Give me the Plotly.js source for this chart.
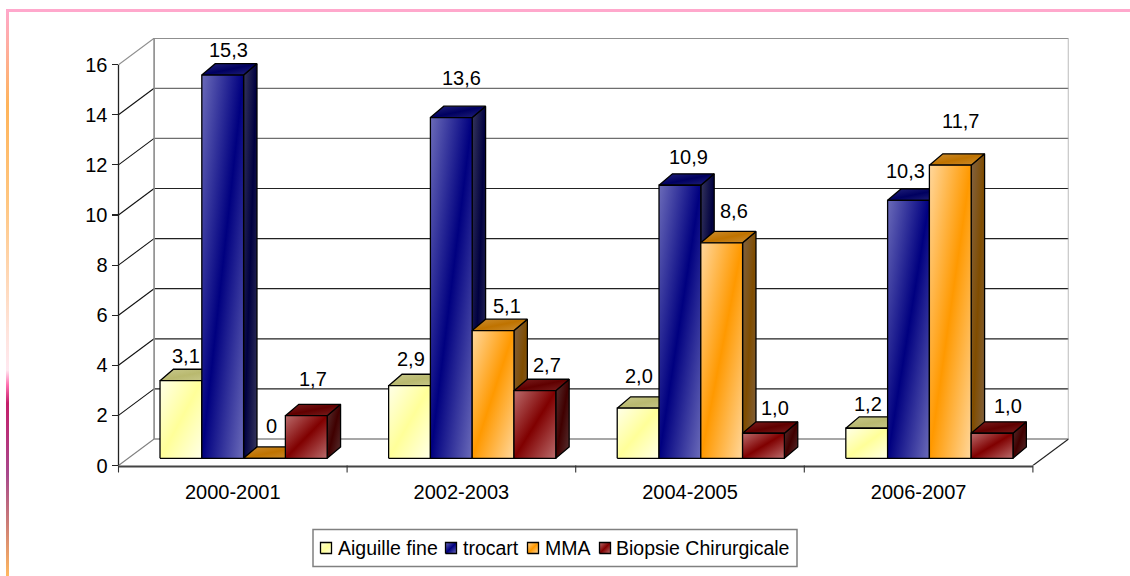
<!DOCTYPE html>
<html>
<head>
<meta charset="utf-8">
<script src="https://cdn.plot.ly/plotly-3.0.1.min.js"></script>
<style>
  html, body { margin: 0; padding: 0; background: #fff; }
  #chart { width: 1130px; height: 576px; }
</style>
</head>
<body>
<div id="chart"></div>
<script>
// Biopsy counts per period, one list per technique
const periods = ['2000-2001', '2002-2003', '2004-2005', '2006-2007'];
const seriesNames = ['Aiguille fine', 'trocart', 'MMA', 'Biopsie Chirurgicale'];
const aiguilleFine = [3.1, 2.9, 2.0, 1.2];
const trocart = [15.3, 13.6, 10.9, 10.3];
const mma = [0, 5.1, 8.6, 11.7];
const biopsieChirurgicale = [1.7, 2.7, 1.0, 1.0];
const yTicks = [0, 2, 4, 6, 8, 10, 12, 14, 16];

const seriesValues = [aiguilleFine, trocart, mma, biopsieChirurgicale];

// Page geometry, in pixels
const W = 1130, H = 576;
const plotLeft = 118.5, plotRight = 1068.6, plotTop = 38, plotBottom = 465.5;
const pxPerPeriod = 228.6, pxPerUnit = 25.05;

// Oblique projection offsets, converted to axis units
const toX = px => px / pxPerPeriod;
const toY = px => px / pxPerUnit;
const wallDx = toX(35.6), wallDy = toY(26.5);
const barFrontDx = toX(9.4), barFrontDy = toY(7.2);
const barDepthDx = toX(13.4), barDepthDy = toY(11.4);
const barStart = 0.1405, barWidth = 0.1828;

// Face shades per series: front, top, side
const faceColors = [
  { front: ['#FFFFE8', '#FFFF99'], top: ['#C9C98E', '#B9B96F'], side: ['#87875E', '#808040'] },
  { front: ['#6B6BB9', '#000080'], top: ['#24247C', '#000060'], side: ['#36365C', '#000040'] },
  { front: ['#FFD79C', '#FF9900'], top: ['#CC8E34', '#BF7300'], side: ['#806244', '#804D00'] },
  { front: ['#BA6C6C', '#800000'], top: ['#7C2222', '#600000'], side: ['#573232', '#400000'] }
];

// Gridline shades from 0 to 16, in the order of yTicks
const gridShades = ['#8a8a8a', '#222', '#222', '#222', '#222', '#222', '#6e6e6e', '#6e6e6e', '#8f8f8f'];
const sideShades = ['#808080', '#111', '#111', '#111', '#111', '#111', '#111', '#111', '#8f8f8f'];

// Label placement relative to each bar's top front centre, in pixels
const labelNudge = [
  [[5.5, -25], [6, -25], [7, -32], [6.5, -37]],
  [[1, -27], [10.5, -40], [14, -25], [12.5, -26]],
  [[1, -32], [8.5, -28], [12.5, -32], [11.5, -25]],
  [[1.5, -24], [-3.5, -29], [10.5, -44], [15.5, -27]]
];

const labelFont = { family: 'Liberation Sans, Arial, sans-serif', size: 20, color: '#000' };
const keyFont = { family: 'Liberation Sans, Arial, sans-serif', size: 19.5, color: '#000' };

const formatValue = v => v === 0 ? '0' : v.toFixed(1).replace('.', ',');

const traces = [];

function polyline(xs, ys, color, width, extra) {
  traces.push(Object.assign({
    type: 'scatter', mode: 'lines', x: xs, y: ys,
    line: { color: color, width: width }, cliponaxis: false,
    hoverinfo: 'skip', showlegend: false
  }, extra || {}));
}

let faceCount = 0;
function face(xs, ys, stops, extra) {
  faceCount += 1;
  polyline(xs.concat(xs[0]), ys.concat(ys[0]), '#000', 1.3, Object.assign({
    uid: 'shaded-' + faceCount,
    fill: 'toself',
    fillcolor: stops[1],
    fillgradient: {
      type: 'vertical',
      colorscale: [[0, stops[0]], [0.5, stops[1]], [1, stops[0]]]
    }
  }, extra || {}));
}

// Walls and gridlines
const xEnd = toX(plotRight - plotLeft);
yTicks.forEach((v, i) => {
  polyline([wallDx, xEnd], [v + wallDy, v + wallDy], gridShades[i], i === 0 || i === 8 ? 1.6 : 1.2);
  polyline([0, wallDx], [v, v + wallDy], sideShades[i], 1.1);
});
polyline([wallDx, wallDx], [wallDy, 16 + wallDy], '#8a8a8a', 1.6);
polyline([xEnd, xEnd], [wallDy, 16 + wallDy], '#aaaaaa', 1.6);
polyline([periods.length, xEnd], [0, wallDy], '#222', 1.1);

// Value axis line, floor edge and period separators sit on the plot's border,
// so they go on the full-page pixel axes where nothing trims them
const pageAxes = { xaxis: 'x2', yaxis: 'y2' };
const pageX = c => plotLeft + c * pxPerPeriod;
const pageY = v => plotBottom - v * pxPerUnit;
const floorEnd = periods.length;
polyline([pageX(0), pageX(0)], [pageY(0), pageY(16)], '#222', 1.3, pageAxes);
polyline([pageX(0), pageX(floorEnd)], [pageY(0) + 1, pageY(0) + 1], '#444', 2, pageAxes);
const sepX = [], sepY = [];
for (let i = 0; i <= floorEnd; i++) {
  sepX.push(pageX(i), pageX(i), null);
  sepY.push(pageY(0), pageY(0) + 7, null);
}
polyline(sepX, sepY, '#333', 1.1, pageAxes);

// Bars, painted left to right so that later bars cover earlier side faces
const annotations = [];
periods.forEach((p, c) => {
  seriesValues.forEach((values, s) => {
    const v = values[c];
    const x0 = c + barStart + s * barWidth + barFrontDx;
    const x1 = x0 + barWidth;
    const y0 = barFrontDy;
    const y1 = v + barFrontDy;
    const dx = barDepthDx, dy = barDepthDy;
    const col = faceColors[s];
    face([x1, x1 + dx, x1 + dx, x1], [y0, y0 + dy, y1 + dy, y1], col.side);
    face([x0, x1, x1 + dx, x0 + dx], [y1, y1, y1 + dy, y1 + dy], col.top);
    if (v > 0) face([x0, x1, x1, x0], [y0, y0, y1, y1], col.front);
    else polyline([x0, x1], [y0, y0], '#000', 1.3);

    const nudge = labelNudge[c][s];
    annotations.push({
      x: (x0 + x1) / 2, y: y1, xref: 'x', yref: 'y',
      text: formatValue(v), showarrow: false,
      xanchor: 'center', yanchor: 'middle',
      xshift: nudge[0], yshift: -nudge[1],
      font: labelFont
    });
  });
});

// Key below the chart, on the full-page axes
const keySwatchX = [320.5, 445.5, 527.5, 599.5];
const keyTextX = [336, 461, 543, 614];
const keyY = 548, keySwatch = 11;
seriesNames.forEach((name, s) => {
  const l = keySwatchX[s], r = l + keySwatch;
  const t = keyY - keySwatch / 2, b = keyY + keySwatch / 2;
  face([l, r, r, l], [b, b, t, t], faceColors[s].front, pageAxes);
  annotations.push({
    x: keyTextX[s], y: keyY - 0.5, xref: 'x2', yref: 'y2', text: name, showarrow: false,
    xanchor: 'left', yanchor: 'middle',
    font: keyFont
  });
});

// Page frame: the left rule shifts hue on its way down
// (the gradient runs bottom to top, so stop 0 is the foot of the rule)
traces.push({
  type: 'scatter', mode: 'lines', xaxis: 'x2', yaxis: 'y2',
  x: [6, 9, 9, 6, 6], y: [9, 9, 576, 576, 9],
  line: { width: 0, color: 'rgba(0,0,0,0)' },
  fill: 'toself', fillcolor: '#FFB860',
  fillgradient: {
    type: 'vertical',
    colorscale: [
      [0, '#FFB860'], [0.1, '#C87878'], [0.18, '#A8488C'], [0.305, '#C41E6A'],
      [0.337, '#FF70B0'], [0.363, '#FFE8F0'], [0.43, '#FFE4DC'], [0.66, '#FFC680'],
      [0.83, '#FFB45A'], [1, '#FFA8CC']
    ]
  },
  hoverinfo: 'skip', showlegend: false, cliponaxis: false
});

const layout = {
  width: W, height: H,
  margin: { l: 0, r: 0, t: 0, b: 0, pad: 0 },
  paper_bgcolor: '#fff', plot_bgcolor: 'rgba(0,0,0,0)',
  showlegend: false,
  hovermode: false,
  xaxis: {
    domain: [plotLeft / W, plotRight / W],
    range: [0, xEnd], fixedrange: true,
    tickmode: 'array',
    tickvals: periods.map((p, i) => i + 0.5), ticktext: periods,
    ticks: 'outside', ticklen: 8, tickcolor: 'rgba(0,0,0,0)',
    showgrid: false, zeroline: false, showline: false,
    tickfont: labelFont
  },
  yaxis: {
    domain: [(H - plotBottom) / H, (H - plotTop) / H],
    range: [0, (plotBottom - plotTop) / pxPerUnit], fixedrange: true,
    tickmode: 'array', tickvals: yTicks, ticktext: yTicks.map(String),
    ticks: 'outside', ticklen: 6, tickwidth: 1.1, tickcolor: '#222',
    showgrid: false, zeroline: false, showline: false,
    tickfont: labelFont
  },
  xaxis2: { domain: [0, 1], range: [0, W], anchor: 'y2', visible: false, fixedrange: true },
  yaxis2: { domain: [0, 1], range: [H, 0], anchor: 'x2', visible: false, fixedrange: true },
  shapes: [
    { type: 'rect', xref: 'x2', yref: 'y2', x0: 6, x1: W, y0: 9, y1: 12,
      fillcolor: '#FFA8CC', line: { width: 0 }, layer: 'below' },
    { type: 'rect', xref: 'x2', yref: 'y2', x0: 313, x1: 797, y0: 529.5, y1: 566.5,
      fillcolor: '#fff', line: { color: '#808080', width: 1.5 }, layer: 'below' }
  ],
  annotations: annotations
};

Plotly.newPlot('chart', traces, layout, { displayModeBar: false, staticPlot: true }).then(gd => {
  // Run the shaded faces corner to corner across each face's box
  gd.querySelectorAll('linearGradient').forEach(g => {
    if (g.id.indexOf('shaded-') >= 0) {
      g.setAttribute('x1', '0'); g.setAttribute('y1', '0');
      g.setAttribute('x2', '1'); g.setAttribute('y2', '1');
    }
  });
});
</script>
</body>
</html>
